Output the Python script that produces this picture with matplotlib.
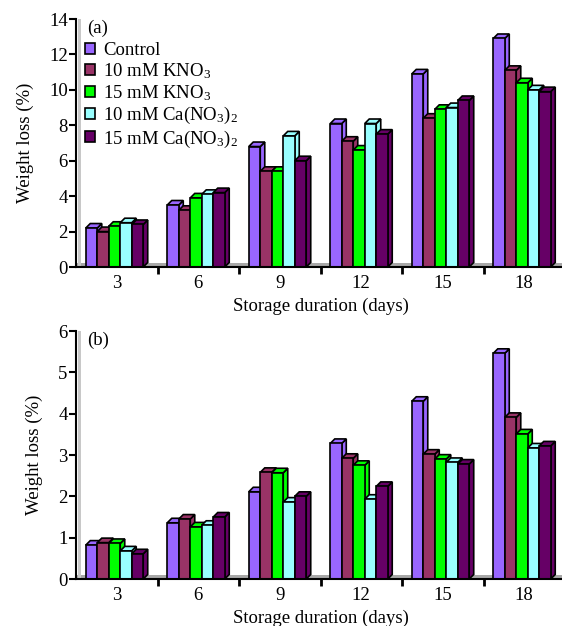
import matplotlib.pyplot as plt
import numpy as np
from matplotlib.patches import Polygon, Rectangle

plt.rcParams['font.family'] = 'Liberation Serif'
plt.rcParams['mathtext.fontset'] = 'custom'
plt.rcParams['mathtext.rm'] = 'Liberation Serif'
plt.rcParams['mathtext.it'] = 'Liberation Serif:italic'

days = ['3', '6', '9', '12', '15', '18']
treatments = ['Control', r'10 mM KNO$_3$', r'15 mM KNO$_3$',
              r'10 mM Ca(NO$_3$)$_2$', r'15 mM Ca(NO$_3$)$_2$']
colors = ['#9966FF', '#993366', '#00FF00', '#99FFFF', '#660066']

# panel (a)
loss_a = [
    [2.2, 3.5, 6.8, 8.1, 10.9, 12.9],   # Control
    [2.0, 3.2, 5.4, 7.1, 8.4, 11.1],    # 10 mM KNO3
    [2.3, 3.9, 5.4, 6.6, 8.9, 10.4],    # 15 mM KNO3
    [2.5, 4.1, 7.4, 8.1, 9.0, 10.0],    # 10 mM Ca(NO3)2
    [2.4, 4.2, 6.0, 7.5, 9.4, 9.9],     # 15 mM Ca(NO3)2
]
# panel (b)
loss_b = [
    [0.82, 1.36, 2.11, 3.28, 4.30, 5.46],
    [0.88, 1.45, 2.58, 2.92, 3.02, 3.91],
    [0.86, 1.26, 2.57, 2.75, 2.90, 3.51],
    [0.68, 1.30, 1.86, 1.93, 2.82, 3.17],
    [0.61, 1.50, 2.00, 2.24, 2.78, 3.22],
]

W, H = 562, 626
fig = plt.figure(figsize=(W / 100, H / 100), dpi=100)

FS = 13.5
depth_px = 4.5
bar_w = 0.141


def draw_panel(ax, data, ymax, yticks, tag, legend):
    ax.set_xlim(-0.5, 5.5)
    ax.set_ylim(0, ymax)
    bbox = ax.get_position()
    ax_w = bbox.width * W
    ax_h = bbox.height * H
    dx = depth_px * 6.0 / ax_w
    dy = depth_px * ymax / ax_h

    # gray floor and wall
    ax.add_patch(Rectangle((-0.5, 0), 6.2, dy, color='#A8A8A8', zorder=1, lw=0))
    ax.add_patch(Rectangle((-0.5 + dx * 0.4, 0), dx * 0.6, ymax, color='#C8C8C8',
                           zorder=1, lw=0))

    x = np.arange(len(days))
    z = 2
    for i in range(len(days)):
        for j in range(len(data)):
            v = data[j][i]
            x0 = x[i] + (j - 2.5) * bar_w - dx / 2
            x1 = x0 + bar_w
            c = colors[j]
            side = Polygon([(x1, 0), (x1 + dx, dy), (x1 + dx, v + dy), (x1, v)],
                           closed=True, fc=c, ec='black', lw=1.2, zorder=z)
            top = Polygon([(x0, v), (x0 + dx, v + dy), (x1 + dx, v + dy), (x1, v)],
                          closed=True, fc=c, ec='black', lw=1.2, zorder=z + 1)
            ax.add_patch(side)
            ax.add_patch(top)
            ax.bar(x0, v, width=bar_w, align='edge', color=c, edgecolor='black',
                   lw=1.2, zorder=z + 2)
            z += 3

    for s in ['top', 'right']:
        ax.spines[s].set_visible(False)
    ax.spines['left'].set_linewidth(1.5)
    ax.spines['bottom'].set_linewidth(1.5)
    ax.spines['left'].set_zorder(200)
    ax.spines['bottom'].set_zorder(200)

    ax.set_yticks(yticks)
    ax.tick_params(axis='y', direction='out', length=5, width=1.5, labelsize=FS, pad=1)
    ax.set_xticks(x, days)
    ax.tick_params(axis='x', which='major', length=0, labelsize=FS, pad=6)
    ax.set_xticks(np.arange(0.5, 5.5, 1.0), minor=True)
    ax.tick_params(axis='x', which='minor', direction='out', length=5, width=2)

    ax.set_xlabel('Storage duration (days)', fontsize=FS, labelpad=4)
    ax.set_ylabel('Weight loss (%)', fontsize=FS, labelpad=11)
    ax.text(0.022, 0.998, tag, transform=ax.transAxes, fontsize=FS,
            ha='left', va='top', zorder=300)

    if legend:
        handles = [Rectangle((0, 0), 1, 1, fc=c, ec='black', lw=1.2) for c in colors]
        ax.legend(handles, treatments, loc='upper left', bbox_to_anchor=(0.003, 0.938),
                  frameon=False, fontsize=FS, handlelength=0.55, handleheight=0.55,
                  handletextpad=0.4, labelspacing=0.12, borderaxespad=0.2,
                  borderpad=0.2)


left = 76 / W
width = 489 / W
ax_a = fig.add_axes([left, 1 - 267 / H, width, 248 / H])
ax_b = fig.add_axes([left, 1 - 579 / H, width, 248 / H])

draw_panel(ax_a, loss_a, 14, np.arange(0, 15, 2), '(a)', True)
draw_panel(ax_b, loss_b, 6, np.arange(0, 7, 1), '(b)', False)

fig.savefig('out.png', dpi=100)
